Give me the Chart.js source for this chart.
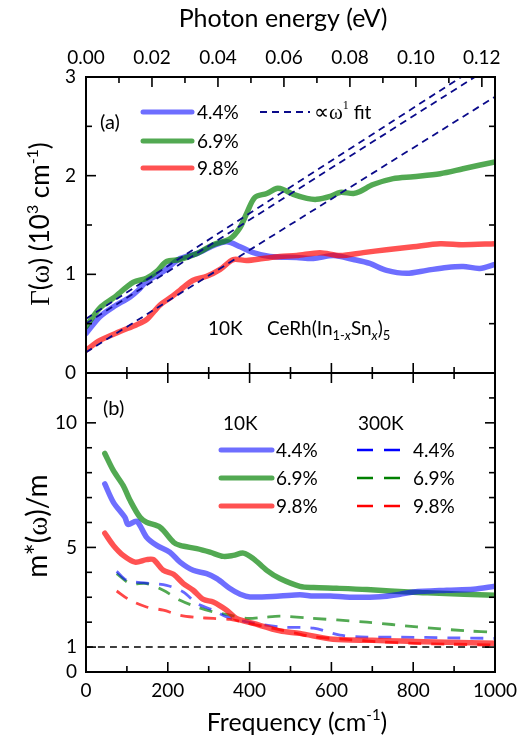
<!DOCTYPE html>
<html><head><meta charset="utf-8">
<script src="https://cdn.jsdelivr.net/npm/chart.js@4.4.1/dist/chart.umd.min.js"></script>
<style>
html,body{margin:0;padding:0;background:#fff;width:532px;height:745px;overflow:hidden;position:relative}
#ca{position:absolute;left:0;top:0}
#cb{position:absolute;left:0;top:343px}
</style></head><body>
<canvas id="ca" width="532" height="400"></canvas>
<canvas id="cb" width="532" height="402"></canvas>
<script>
// ---------- Panel (a): scattering rate Gamma(omega), 10K, units 10^3 cm^-1 ----------
const FREQ_A_44 = [0,34,67,108,128,148,189,230,271,311,344,377,409,450,515,556,605,654,694,735,784,833,882,922,963,1000];
const GAMMA_44  = [0.40,0.57,0.67,0.77,0.84,0.93,1.03,1.16,1.21,1.29,1.33,1.28,1.22,1.18,1.17,1.16,1.19,1.15,1.11,1.04,1.01,1.04,1.07,1.08,1.06,1.10];
const FREQ_A_69 = [0,34,67,116,148,173,197,230,271,311,352,376,393,413,442,466,482,507,540,564,597,621,654,670,702,751,800,866,922,1000];
const GAMMA_69  = [0.47,0.66,0.76,0.92,0.96,1.03,1.13,1.15,1.21,1.30,1.36,1.47,1.62,1.78,1.82,1.87,1.86,1.81,1.77,1.76,1.79,1.83,1.82,1.84,1.91,1.97,1.99,2.02,2.07,2.14];
const FREQ_A_98 = [0,34,83,124,148,181,205,230,262,295,328,360,393,433,474,515,572,621,678,735,800,866,922,1000];
const GAMMA_98  = [0.23,0.33,0.42,0.49,0.54,0.69,0.76,0.84,0.94,0.98,1.05,1.15,1.14,1.16,1.18,1.19,1.22,1.19,1.22,1.25,1.28,1.31,1.30,1.31];
// linear fits (values read at the two ends of the frequency range)
const FIT_FREQ = [0,1000];
const FIT_44 = [0.50,3.13];
const FIT_69 = [0.55,3.22];
const FIT_98 = [0.21,2.80];

// ---------- Panel (b): effective mass m*(omega)/m ----------
const FREQ_B10_44 = [46,67,95,103,124,148,173,205,230,262,295,320,352,377,401,474,523,556,597,645,719,768,800,882,947,1000];
const M10_44      = [7.55,6.81,6.21,5.92,6.05,5.41,5.08,4.81,4.41,4.08,3.95,3.75,3.35,3.12,3.01,3.05,3.10,3.05,3.05,3.00,3.02,3.12,3.21,3.28,3.32,3.44];
const FREQ_B10_69 = [46,67,91,108,132,148,181,214,230,271,303,336,360,385,409,442,474,523,556,613,687,800,849,1000];
const M10_69      = [8.77,8.08,7.48,6.88,6.21,6.01,5.81,5.21,5.08,4.95,4.81,4.64,4.68,4.77,4.55,4.08,3.75,3.44,3.39,3.36,3.31,3.20,3.17,3.08];
const FREQ_B10_98 = [46,67,91,120,148,165,189,214,238,262,287,311,344,368,409,474,523,604,700,768,882,1000];
const M10_98      = [5.57,5.08,4.68,4.41,4.51,4.51,4.08,3.92,3.55,3.28,2.91,2.81,2.48,2.15,1.95,1.65,1.55,1.31,1.27,1.24,1.19,1.15];
const FREQ_B300_44 = [75,100,148,197,238,271,311,344,393,474,556,621,687,768,890,1000];
const M300_44      = [4.04,3.68,3.57,3.48,3.21,2.75,2.48,2.21,2.01,1.81,1.76,1.48,1.40,1.40,1.37,1.35];
const FREQ_B300_69 = [75,108,148,189,230,271,311,352,393,433,474,540,687,809,931,1000];
const M300_69      = [3.95,3.55,3.55,3.28,2.88,2.61,2.41,2.28,2.15,2.19,2.24,2.17,2.00,1.81,1.65,1.60];
const FREQ_B300_98 = [75,108,148,189,230,271,311,352,393,458,515,556,637,719,800,882,1000];
const M300_98      = [3.25,2.88,2.61,2.48,2.28,2.19,2.15,2.11,1.97,1.75,1.55,1.41,1.31,1.21,1.15,1.12,1.08];
const UNITY_FREQ = [0,1000];
const UNITY_M    = [1,1];

// ---------- ticks ----------
const TICKS_FREQ  = [0,100,200,300,400,500,600,700,800,900,1000];
const LABELS_FREQ = [0,200,400,600,800,1000];
const TICKS_EV    = [0,0.01,0.02,0.03,0.04,0.05,0.06,0.07,0.08,0.09,0.10,0.11,0.12];
const LABELS_EV   = [0,0.02,0.04,0.06,0.08,0.10,0.12];
const TICKS_GAMMA  = [0,0.5,1,1.5,2,2.5,3];
const LABELS_GAMMA = [0,1,2,3];
const TICKS_M  = [0,1,2,3,4,5,6,7,8,9,10,11,12];
const LABELS_M = [0,1,5,10];
const CM_PER_EV = 8065.54;

const SANS = 'Lato';
const SERIF = '"Liberation Serif"';
const C_BLUE = 'rgba(0,0,255,0.57)', C_GREEN = 'rgba(0,128,0,0.68)', C_RED = 'rgba(255,0,0,0.68)';
const D_BLUE = 'rgba(0,0,255,0.6)', D_GREEN = 'rgba(0,128,0,0.68)', D_RED = 'rgba(255,0,0,0.72)';
const NAVY = '#0a0a8a';

function ds(xs, ys, color, width, dash, yID){
  return {data: xs.map((x,i)=>({x:x, y:ys[i]})), borderColor: color, borderWidth: width,
    borderDash: dash||[], pointRadius: 0, fill: false, tension: 0.3, yAxisID: yID, xAxisID:'x',
    borderCapStyle: dash ? 'butt' : 'round', borderJoinStyle:'round'};
}
function isIn(v, arr){ return arr.some(a => Math.abs(a-v) < 1e-9); }

function drawRich(ctx, segs, x, y, rot, align){
  ctx.save();
  ctx.translate(x, y);
  if (rot) ctx.rotate(rot);
  ctx.textBaseline = 'alphabetic';
  ctx.fillStyle = '#000';
  let total = 0;
  segs.forEach(s => { ctx.font = s.f; s.w = ctx.measureText(s.t).width; total += s.w; });
  let cx = align === 'center' ? -total/2 : 0;
  segs.forEach(s => { ctx.font = s.f; ctx.fillText(s.t, cx, s.dy||0); cx += s.w; });
  ctx.restore();
}
function legLine(ctx, x1, x2, y, color, w, dash){
  ctx.save(); ctx.strokeStyle = color; ctx.lineWidth = w; ctx.lineCap = dash ? 'butt':'round';
  ctx.setLineDash(dash||[]); ctx.beginPath(); ctx.moveTo(x1,y); ctx.lineTo(x2,y); ctx.stroke(); ctx.restore();
}
function tickSet(ctx, scale, vals, majors, side, area){
  vals.forEach(v => {
    const p = scale.getPixelForValue(v);
    const len = isIn(v, majors) ? 10 : 6;
    ctx.beginPath();
    if (side==='left'){ ctx.moveTo(area.left, p); ctx.lineTo(area.left+len, p); }
    if (side==='right'){ ctx.moveTo(area.right, p); ctx.lineTo(area.right-len, p); }
    if (side==='top'){ ctx.moveTo(p, area.top); ctx.lineTo(p, area.top+len); }
    if (side==='bottom'){ ctx.moveTo(p, area.bottom); ctx.lineTo(p, area.bottom-len); }
    ctx.stroke();
  });
}
function frame(ctx, area){
  ctx.save(); ctx.strokeStyle='#000'; ctx.lineWidth=2;
  ctx.strokeRect(area.left, area.top, area.right-area.left, area.bottom-area.top);
  ctx.restore();
}
const f = (size, fam, style) => (style?style+' ':'') + size + 'px ' + (fam||SANS);

const pluginA = {
  id: 'decorA',
  afterDraw(chart){
    const ctx = chart.ctx, a = chart.chartArea;
    frame(ctx, a);
    ctx.save(); ctx.strokeStyle='#000'; ctx.lineWidth=1.6;
    tickSet(ctx, chart.scales.y, TICKS_GAMMA, LABELS_GAMMA, 'left', a);
    tickSet(ctx, chart.scales.y, TICKS_GAMMA, LABELS_GAMMA, 'right', a);
    tickSet(ctx, chart.scales.xe, TICKS_EV, LABELS_EV, 'top', a);
    tickSet(ctx, chart.scales.x, TICKS_FREQ, LABELS_FREQ, 'bottom', a);
    ctx.restore();
    // titles
    drawRich(ctx, [{t:'Photon energy (eV)', f:f(25)}], 283, 27, 0, 'center');
    drawRich(ctx, [
      {t:'\u0393', f:f(27,SERIF)}, {t:'(', f:f(26)}, {t:'\u03c9', f:f(28,SERIF)}, {t:') (10', f:f(26)},
      {t:'3', f:f(16), dy:-11}, {t:' cm', f:f(26)}, {t:'-1', f:f(16), dy:-11}, {t:')', f:f(26)}
    ], 49, 224, -Math.PI/2, 'center');
    // legend
    drawRich(ctx, [{t:'(a)', f:f(20)}], 100, 129, 0);
    const rows = [[112, C_BLUE, '4.4%'], [141, C_GREEN, '6.9%'], [168, C_RED, '9.8%']];
    rows.forEach(r => { legLine(ctx, 143, 192, r[0], r[1], 5); drawRich(ctx, [{t:r[2], f:f(19)}], 197, r[0]+7, 0); });
    legLine(ctx, 260, 310, 112, NAVY, 1.8, [7,5]);
    drawRich(ctx, [{t:'\u221d\u03c9', f:f(21,SERIF)}, {t:'1', f:f(12,SERIF), dy:-10}, {t:' fit', f:f(19)}], 314, 119, 0);
    // sample label
    drawRich(ctx, [{t:'10K', f:f(19)}], 208, 335, 0);
    drawRich(ctx, [
      {t:'CeRh(In', f:f(19)}, {t:'1-', f:f(13), dy:5}, {t:'x', f:f(13,SANS,'italic'), dy:5},
      {t:'Sn', f:f(19)}, {t:'x', f:f(13,SANS,'italic'), dy:5}, {t:')', f:f(19)}, {t:'5', f:f(13), dy:5}
    ], 267, 335, 0);
  }
};

const OFF = 343;
const pluginB = {
  id: 'decorB',
  afterDraw(chart){
    const ctx = chart.ctx, a = chart.chartArea;
    frame(ctx, a);
    ctx.save(); ctx.strokeStyle='#000'; ctx.lineWidth=1.6;
    tickSet(ctx, chart.scales.y, TICKS_M, LABELS_M, 'left', a);
    tickSet(ctx, chart.scales.y, TICKS_M, LABELS_M, 'right', a);
    tickSet(ctx, chart.scales.x, TICKS_FREQ, LABELS_FREQ, 'top', a);
    tickSet(ctx, chart.scales.x, TICKS_FREQ, LABELS_FREQ, 'bottom', a);
    ctx.restore();
    drawRich(ctx, [{t:'Frequency (cm', f:f(25)}, {t:'-1', f:f(15), dy:-11}, {t:')', f:f(25)}], 297, 731-OFF, 0, 'center');
    drawRich(ctx, [{t:'m*(', f:f(28)}, {t:'\u03c9', f:f(29,SERIF)}, {t:')/m', f:f(28)}], 47, 526-OFF, -Math.PI/2, 'center');
    drawRich(ctx, [{t:'(b)', f:f(20)}], 103, 415-OFF, 0);
    drawRich(ctx, [{t:'10K', f:f(19)}], 223, 430-OFF, 0);
    drawRich(ctx, [{t:'300K', f:f(19)}], 358, 430-OFF, 0);
    const rows = [[450, C_BLUE, '#0000ff', '4.4%'], [478, C_GREEN, '#008000', '6.9%'], [506, C_RED, '#ff0000', '9.8%']];
    rows.forEach(r => {
      const y = r[0]-OFF;
      legLine(ctx, 221, 272, y, r[1], 5);
      drawRich(ctx, [{t:r[3], f:f(19)}], 276, y+7, 0);
      legLine(ctx, 357, 401, y, r[2], 2.6, [16,11]);
      drawRich(ctx, [{t:r[3], f:f(19)}], 413, y+7, 0);
    });
  }
};

function build(){
  Chart.defaults.font.family = SANS;
  Chart.defaults.color = '#000';
  new Chart(document.getElementById('ca'), {
    type: 'line',
    data: { datasets: [
      ds(FIT_FREQ, FIT_69, NAVY, 1.8, [7,5], 'y'),
      ds(FIT_FREQ, FIT_44, NAVY, 1.8, [7,5], 'y'),
      ds(FIT_FREQ, FIT_98, NAVY, 1.8, [7,5], 'y'),
      ds(FREQ_A_98, GAMMA_98, C_RED, 5.5, null, 'y'),
      ds(FREQ_A_69, GAMMA_69, C_GREEN, 5.5, null, 'y'),
      ds(FREQ_A_44, GAMMA_44, C_BLUE, 5.5, null, 'y')
    ]},
    options: {
      responsive: false, animation: false, devicePixelRatio: 1,
      layout: {padding: {left:0, right:37, top:0, bottom:27}},
      plugins: {legend:{display:false}, tooltip:{enabled:false}},
      scales: {
        x: {type:'linear', min:0, max:1000, display:false},
        xe: {type:'linear', axis:'x', position:'top', min:0, max:1000/CM_PER_EV,
          grid:{display:false, drawTicks:false}, border:{display:false},
          afterBuildTicks: s => { s.ticks = LABELS_EV.map(v=>({value:v})); },
          afterFit: s => { s.height = 77; },
          ticks:{font:{family:SANS, size:19}, color:'#000', padding:8, maxRotation:0, autoSkip:false,
            callback: v => Number(v).toFixed(2)}},
        y: {type:'linear', position:'left', min:0, max:3,
          grid:{display:false, drawTicks:false}, border:{display:false},
          afterBuildTicks: s => { s.ticks = LABELS_GAMMA.map(v=>({value:v})); },
          afterFit: s => { s.width = 86; },
          ticks:{font:{family:SANS, size:19}, color:'#000', padding:10, autoSkip:false, callback: v => String(v)}}
      }
    },
    plugins: [pluginA]
  });
  new Chart(document.getElementById('cb'), {
    type: 'line',
    data: { datasets: [
      ds(FREQ_B10_98, M10_98, C_RED, 5.5, null, 'y'),
      ds(FREQ_B10_44, M10_44, C_BLUE, 5.5, null, 'y'),
      ds(FREQ_B10_69, M10_69, C_GREEN, 5.5, null, 'y'),
      ds(FREQ_B300_98, M300_98, D_RED, 2.8, [13,10], 'y'),
      ds(FREQ_B300_44, M300_44, D_BLUE, 2.8, [13,10], 'y'),
      ds(FREQ_B300_69, M300_69, D_GREEN, 2.8, [13,10], 'y'),
      ds(UNITY_FREQ, UNITY_M, '#000', 1.5, [7,5], 'y')
    ]},
    options: {
      responsive: false, animation: false, devicePixelRatio: 1,
      layout: {padding: {left:0, right:37, top:30, bottom:0}},
      plugins: {legend:{display:false}, tooltip:{enabled:false}},
      scales: {
        x: {type:'linear', position:'bottom', min:0, max:1000,
          grid:{display:false, drawTicks:false}, border:{display:false},
          afterBuildTicks: s => { s.ticks = LABELS_FREQ.map(v=>({value:v})); },
          afterFit: s => { s.height = 73; },
          ticks:{font:{family:SANS, size:19}, color:'#000', padding:7, maxRotation:0, autoSkip:false, callback: v => String(v)}},
        y: {type:'linear', position:'left', min:0, max:12,
          grid:{display:false, drawTicks:false}, border:{display:false},
          afterBuildTicks: s => { s.ticks = LABELS_M.map(v=>({value:v})); },
          afterFit: s => { s.width = 86; },
          ticks:{font:{family:SANS, size:19}, color:'#000', padding:9, autoSkip:false, callback: v => String(v)}}
      }
    },
    plugins: [pluginB]
  });
}
Promise.all([
  document.fonts.load('19px Lato'), document.fonts.load('italic 13px Lato'), document.fonts.load('20px "Liberation Serif"')
]).then(build, build);
</script>
</body></html>
